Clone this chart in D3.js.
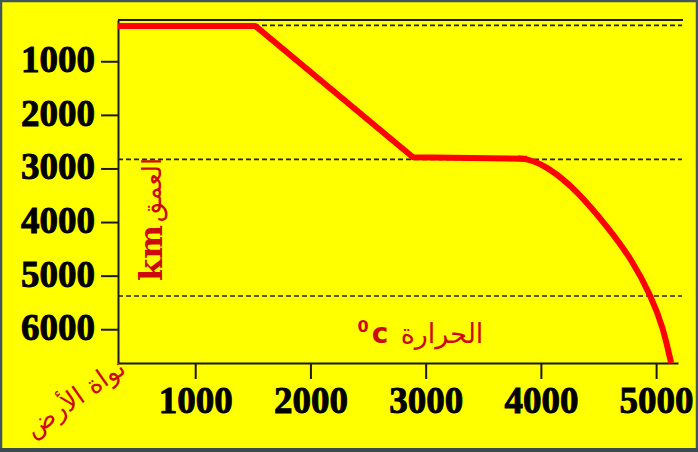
<!DOCTYPE html>
<html>
<head>
<meta charset="utf-8">
<script src="https://cdn.jsdelivr.net/npm/d3@7"></script>
<style>
  html, body { margin: 0; padding: 0; background: #ffff00; }
  svg { display: block; }
</style>
</head>
<body>
<svg id="chart" width="698" height="452"></svg>
<script>
// ---- data ----
const tempTicks = [1000, 2000, 3000, 4000, 5000];
const depthTicks = [1000, 2000, 3000, 4000, 5000, 6000];
const tempExtent = [330, 5190];
const depthExtent = [230, 6630];
const boundaryDepths = [330, 2830, 5380];
// geotherm: temperature (°C) vs depth (km)
const lineTemps = [330, 1520, 2890, 3880];
const lineDepths = [340, 340, 2790, 2820];
const curveTemps = [3800, 3880, 4036, 4313, 4600, 4791, 4956, 5060, 5130];
const curveDepths = [2815, 2820, 2936, 3402, 4149, 4708, 5380, 5959, 6630];
const depthLabelAr = "العمق";
const depthUnit = "km";
const tempLabelAr = "الحرارة";
const tempUnit = "c";
const tempDeg = "0";
const coreLabel = "نواة الأرض";

const svg = d3.select("#chart");
const W = 698, H = 452;

svg.append("rect").attr("x", 0).attr("y", 0).attr("width", W).attr("height", H).attr("fill", "#ffff00");

const x = d3.scaleLinear().domain(tempExtent).range([118, 678]);
const y = d3.scaleLinear().domain(depthExtent).range([20, 363]);

const numFont = "'Liberation Serif', serif";

// top frame line
svg.append("line")
  .attr("x1", x(tempExtent[0])).attr("x2", x(tempExtent[1]) + 5)
  .attr("y1", y(depthExtent[0])).attr("y2", y(depthExtent[0]))
  .attr("stroke", "#1a1a1a").attr("stroke-width", 2);

// dashed boundary lines
svg.selectAll("line.bound").data(boundaryDepths).enter().append("line")
  .attr("class", "bound")
  .attr("x1", x(tempExtent[0])).attr("x2", x(tempExtent[1]) + 4)
  .attr("y1", d => y(d)).attr("y2", d => y(d))
  .attr("stroke", "#222").attr("stroke-width", 1.6)
  .attr("stroke-dasharray", "5,3");

// axes
const yAxis = d3.axisLeft(y).tickValues(depthTicks).tickSize(17).tickPadding(6).tickSizeOuter(0).tickFormat(d3.format("d"));
const gy = svg.append("g").attr("transform", `translate(${x(tempExtent[0])},0)`).call(yAxis);
gy.selectAll("path, line").attr("stroke", "#1a1a1a").attr("stroke-width", 2);
gy.selectAll("text")
  .attr("font-family", numFont).attr("font-weight", "bold").attr("font-size", 37)
  .attr("fill", "#000").attr("stroke", "#000").attr("stroke-width", 0.9)
  .attr("dy", "0.28em");

const xAxis = d3.axisBottom(x).tickValues(tempTicks).tickSize(16).tickPadding(6).tickSizeOuter(0).tickFormat(d3.format("d"));
const gx = svg.append("g").attr("transform", `translate(0,${y(depthExtent[1])})`).call(xAxis);
gx.selectAll("path, line").attr("stroke", "#1a1a1a").attr("stroke-width", 2);
gx.selectAll("text")
  .attr("font-family", numFont).attr("font-weight", "bold").attr("font-size", 37)
  .attr("fill", "#000").attr("stroke", "#000").attr("stroke-width", 0.9)
  .attr("y", 50).attr("dy", 0);

// geotherm
const lineData = lineTemps.map((t, i) => [t, lineDepths[i]]);
const curveData = curveTemps.map((t, i) => [t, curveDepths[i]]);
const gen = d3.line().x(d => x(d[0])).y(d => y(d[1]));
svg.append("path").attr("d", gen.curve(d3.curveLinear)(lineData))
  .attr("fill", "none").attr("stroke", "#ff0000").attr("stroke-width", 6).attr("stroke-linejoin", "round");
svg.append("path").attr("d", gen.curve(d3.curveBasis)(curveData))
  .attr("fill", "none").attr("stroke", "#ff0000").attr("stroke-width", 6).attr("stroke-linejoin", "round");

const red = "#cc0a0a";
// depth label (rotated)
svg.append("text").attr("transform", "translate(162,253) rotate(-90)")
  .attr("text-anchor", "middle").attr("font-family", "'DejaVu Serif', serif").attr("font-weight", "bold")
  .attr("font-size", 32).attr("fill", red).text(depthUnit);
svg.append("text").attr("transform", "translate(161,190) rotate(-90)")
  .attr("text-anchor", "middle").attr("font-family", "'DejaVu Sans', sans-serif")
  .attr("font-size", 26).attr("fill", red).text(depthLabelAr);

// temperature label
svg.append("text").attr("x", 442).attr("y", 343)
  .attr("text-anchor", "middle").attr("font-family", "'DejaVu Sans', sans-serif")
  .attr("font-size", 27).attr("fill", red).text(tempLabelAr);
svg.append("text").attr("x", 380).attr("y", 343)
  .attr("text-anchor", "middle").attr("font-family", "'DejaVu Sans', sans-serif").attr("font-weight", "bold")
  .attr("font-size", 28).attr("fill", red).text(tempUnit);
svg.append("text").attr("x", 363).attr("y", 332)
  .attr("text-anchor", "middle").attr("font-family", "'DejaVu Sans', sans-serif").attr("font-weight", "bold")
  .attr("font-size", 16).attr("fill", red).text(tempDeg);

// core label
svg.append("text").attr("transform", "translate(80,405) rotate(-35)")
  .attr("text-anchor", "middle").attr("font-family", "'DejaVu Sans', sans-serif")
  .attr("font-size", 26).attr("fill", red).text(coreLabel);

// outer border
svg.append("rect").attr("x", 1).attr("y", 1).attr("width", W - 2).attr("height", H - 2)
  .attr("fill", "none").attr("stroke", "#44565c").attr("stroke-width", 2.5);
svg.append("line").attr("x1", 0).attr("x2", W).attr("y1", H - 2).attr("y2", H - 2)
  .attr("stroke", "#3a4a50").attr("stroke-width", 4);
</script>
</body>
</html>
